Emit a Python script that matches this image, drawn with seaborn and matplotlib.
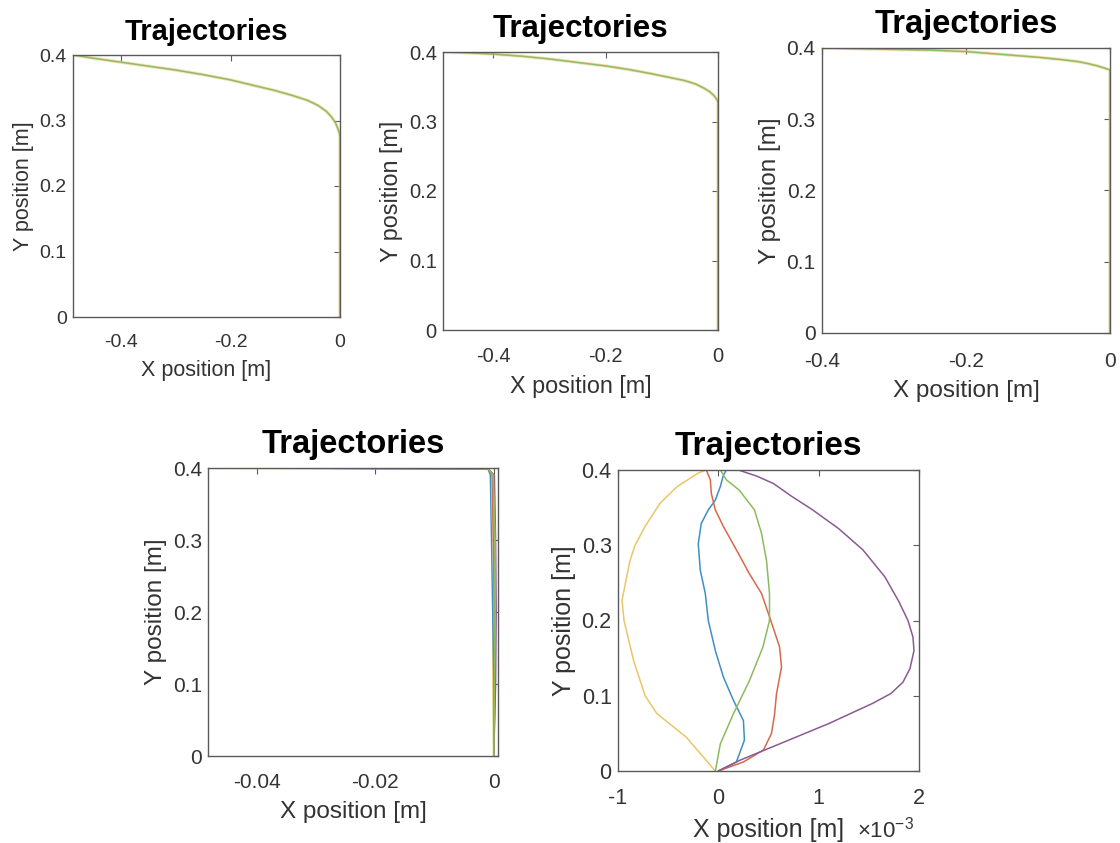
import matplotlib
matplotlib.use("Agg")
import matplotlib.pyplot as plt
import seaborn as sns
import pandas as pd

# ---------------- data ----------------
# top row: all five trajectories overlap (one path per panel)
traj1_x = [-0.4877, -0.45, -0.40, -0.35, -0.30, -0.25, -0.20, -0.16, -0.12, -0.09, -0.06,
           -0.04, -0.025, -0.015, -0.008, -0.004, -0.001, 0.0, 0.0]
traj1_y = [0.400, 0.395, 0.389, 0.383, 0.377, 0.370, 0.362, 0.354, 0.346, 0.339, 0.331,
           0.323, 0.314, 0.305, 0.296, 0.288, 0.280, 0.275, 0.0]

traj2_x = [-0.489, -0.45, -0.40, -0.35, -0.30, -0.25, -0.20, -0.16, -0.12, -0.09, -0.06,
           -0.04, -0.025, -0.015, -0.008, -0.004, -0.001, 0.0, 0.0]
traj2_y = [0.400, 0.399, 0.397, 0.394, 0.390, 0.385, 0.380, 0.375, 0.369, 0.364, 0.359,
           0.354, 0.348, 0.343, 0.338, 0.334, 0.330, 0.327, 0.0]

traj3_x = [-0.40, -0.35, -0.30, -0.25, -0.20, -0.15, -0.10, -0.07, -0.045, -0.03, -0.018,
           -0.008, 0.0, 0.0]
traj3_y = [0.400, 0.399, 0.398, 0.397, 0.395, 0.391, 0.387, 0.384, 0.381, 0.378, 0.375,
           0.372, 0.369, 0.0]

# bottom-left panel (x in m)
p4_y = [0.400, 0.399, 0.390, 0.300, 0.200, 0.100, 0.000]
p4_blue = [-0.0482, -0.0010, -0.0006, -0.0004, -0.0002, 0.0000, 0.0000]
p4_red = [-0.0482, -0.0010, -0.0003, -0.0001, 0.0001, 0.0002, 0.0000]
p4_yellow = [-0.0482, -0.0010, -0.0002, 0.0000, -0.0001, -0.0001, 0.0000]
p4_purple = [-0.0482, -0.0010, 0.0001, 0.0003, 0.0004, 0.0003, 0.0000]
p4_green = [-0.0482, -0.0010, -0.0001, 0.0002, 0.0002, 0.0001, 0.0000]

# bottom-right panel (x in units of 1e-3 m)
blue_x = [0.0, 0.18, 0.26, 0.25, 0.15, 0.05, -0.03, -0.1, -0.13, -0.18, -0.2, -0.17, -0.1, -0.03, 0.02, 0.05, 0.08]
blue_y = [0.0, 0.012, 0.041, 0.067, 0.094, 0.125, 0.16, 0.2, 0.236, 0.267, 0.302, 0.329, 0.347, 0.36, 0.378, 0.393, 0.4]
red_x = [0.0, 0.25, 0.45, 0.53, 0.56, 0.58, 0.63, 0.61, 0.51, 0.43, 0.31, 0.2, 0.05, -0.03, -0.07, -0.08, -0.12]
red_y = [0.0, 0.012, 0.028, 0.05, 0.075, 0.103, 0.138, 0.165, 0.205, 0.236, 0.262, 0.289, 0.325, 0.347, 0.369, 0.387, 0.4]
yellow_x = [-0.03, -0.32, -0.61, -0.73, -0.845, -0.94, -0.96, -0.88, -0.83, -0.73, -0.58, -0.41, -0.2, -0.12]
yellow_y = [0.0, 0.045, 0.076, 0.1, 0.147, 0.2, 0.227, 0.28, 0.30, 0.325, 0.356, 0.378, 0.396, 0.4]
purple_x = [0.0, 0.21, 0.61, 1.1, 1.54, 1.72, 1.84, 1.91, 1.95, 1.94, 1.89, 1.8, 1.66, 1.44,
            1.2, 0.94, 0.72, 0.55, 0.38, 0.2]
purple_y = [0.0, 0.014, 0.036, 0.063, 0.09, 0.103, 0.118, 0.136, 0.16, 0.178, 0.2, 0.225,
            0.258, 0.294, 0.322, 0.347, 0.366, 0.382, 0.392, 0.4]
green_x = [-0.03, 0.02, 0.15, 0.31, 0.445, 0.51, 0.51, 0.48, 0.43, 0.36, 0.21, 0.08, 0.02]
green_y = [0.0, 0.036, 0.076, 0.12, 0.165, 0.2, 0.236, 0.28, 0.316, 0.347, 0.373, 0.387, 0.4]

title_text = "Trajectories"
xlabel_text = "X position [m]"
ylabel_text = "Y position [m]"

# ---------------- style ----------------
sns.set_theme(style="white")
plt.rcParams["font.family"] = ["Liberation Sans", "DejaVu Sans"]
plt.rcParams["mathtext.default"] = "regular"

C_BLUE = "#3f8fc4"
C_RED = "#d8684c"
C_YELLOW = "#e8c766"
C_PURPLE = "#8a5a92"
C_GREEN = "#8bbb5e"
SPINE = "#5a5a5a"
TXT = "#333333"

fig = plt.figure(figsize=(11.2, 8.43), dpi=100)

def style_ax(ax, xlim, xticks, xticklabels, tick_fs, label_fs, title_fs, xpad=12):
    ax.set_xlim(*xlim)
    ax.set_ylim(0, 0.4)
    ax.set_xticks(xticks)
    ax.set_xticklabels(xticklabels)
    ax.set_yticks([0, 0.1, 0.2, 0.3, 0.4])
    ax.set_yticklabels(["0", "0.1", "0.2", "0.3", "0.4"])
    ax.tick_params(direction="in", length=4, width=0.8, color=SPINE,
                   top=True, right=True, labelcolor=TXT,
                   labelsize=tick_fs)
    ax.tick_params(axis="x", pad=xpad)
    ax.tick_params(axis="y", pad=4.5)
    for s in ax.spines.values():
        s.set_color(SPINE)
        s.set_linewidth(1.0)
        s.set_visible(True)
    ax.set_xlabel(xlabel_text, fontsize=label_fs, color=TXT, labelpad=7)
    ax.set_ylabel(ylabel_text, fontsize=label_fs, color=TXT, labelpad=4)
    ax.set_title(title_text, fontsize=title_fs, fontweight="bold", color="black", pad=11)
    ax.set_facecolor("white")

def line(ax, x, y, color, lw=1.1, alpha=1.0):
    df = pd.DataFrame({"x": x, "y": y})
    sns.lineplot(data=df, x="x", y="y", sort=False, estimator=None, ax=ax,
                 color=color, linewidth=lw, alpha=alpha)

def overlapped(ax, x, y):
    line(ax, x, y, C_YELLOW, lw=2.4, alpha=0.5)
    line(ax, x, y, C_PURPLE, lw=1.0, alpha=0.25)
    line(ax, x, y, C_GREEN, lw=1.0, alpha=0.9)

# ---- panel 1 ----
ax1 = fig.add_axes([73/1120, 1-317/843, 267/1120, 262/843])
overlapped(ax1, traj1_x, traj1_y)
style_ax(ax1, (-0.4877, 0.0), [-0.4, -0.2, 0], ["-0.4", "-0.2", "0"], 14, 15.5, 21)

# ---- panel 2 ----
ax2 = fig.add_axes([443/1120, 1-330/843, 275/1120, 278/843])
overlapped(ax2, traj2_x, traj2_y)
style_ax(ax2, (-0.489, 0.0), [-0.4, -0.2, 0], ["-0.4", "-0.2", "0"], 14.5, 16.8, 22.5)

# ---- panel 3 ----
ax3 = fig.add_axes([822/1120, 1-333/843, 288/1120, 285/843])
overlapped(ax3, traj3_x, traj3_y)
style_ax(ax3, (-0.4, 0.0), [-0.4, -0.2, 0], ["-0.4", "-0.2", "0"], 15, 17.5, 23.5, xpad=13.5)

# ---- panel 4 ----
ax4 = fig.add_axes([208/1120, 1-756/843, 290/1120, 288/843])
line(ax4, p4_yellow, p4_y, C_YELLOW, lw=1.6)
line(ax4, p4_blue, p4_y, C_BLUE, lw=1.0)
line(ax4, p4_red, p4_y, C_RED, lw=1.0)
line(ax4, p4_purple, p4_y, C_PURPLE, lw=1.0)
line(ax4, p4_green, p4_y, C_GREEN, lw=1.2)
style_ax(ax4, (-0.0482, 0.0007), [-0.04, -0.02, 0], ["-0.04", "-0.02", "0"], 15, 17.5, 23.5)

# ---- panel 5 ----
ax5 = fig.add_axes([618/1120, 1-771/843, 301/1120, 301/843])
line(ax5, blue_x, blue_y, C_BLUE)
line(ax5, red_x, red_y, C_RED)
line(ax5, yellow_x, yellow_y, C_YELLOW)
line(ax5, purple_x, purple_y, C_PURPLE)
line(ax5, green_x, green_y, C_GREEN)
style_ax(ax5, (-1, 2), [-1, 0, 1, 2], ["-1", "0", "1", "2"], 15.5, 18, 24)
ax5.annotate(r"$\times10^{-3}$", xy=(0.795, 0), xycoords="axes fraction",
             xytext=(0, -48), textcoords="offset points",
             fontsize=16, color=TXT, ha="left", va="baseline")

fig.savefig("out.png", dpi=100, facecolor="white")
